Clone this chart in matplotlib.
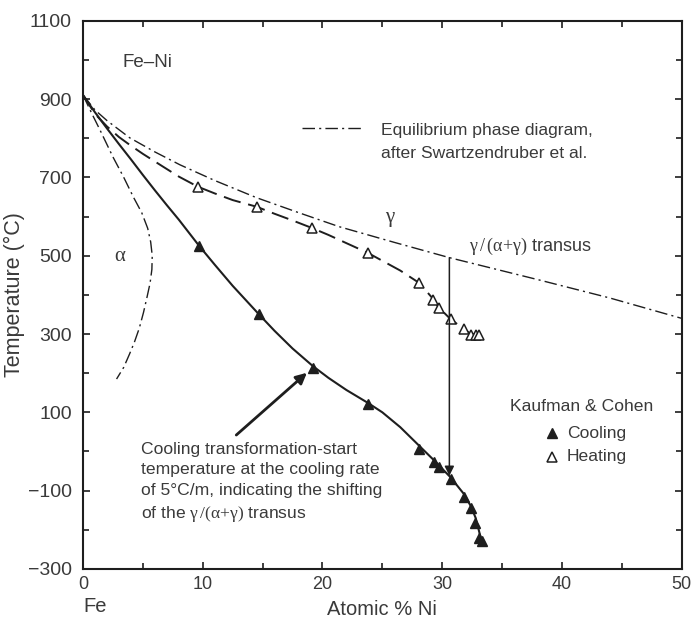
import numpy as np
import matplotlib.pyplot as plt
from matplotlib.ticker import MultipleLocator

plt.rcParams['font.family'] = ['Liberation Sans', 'DejaVu Sans']
plt.rcParams['mathtext.fontset'] = 'custom'
plt.rcParams['mathtext.rm'] = 'Liberation Serif'
plt.rcParams['mathtext.it'] = 'Liberation Serif'

ink = '#1e1e1e'
txt = '#3a3a3a'

# Kaufman & Cohen measured points
cool_ni = [9.7, 14.7, 19.2, 23.8, 28.1, 29.3, 29.7, 30.7, 31.8, 32.4, 32.7, 33.1, 33.3]
cool_t = [525, 350, 213, 121, 6, -26, -39, -71, -115, -145, -183, -222, -228]
heat_ni = [9.6, 14.5, 19.1, 23.8, 28.1, 29.2, 29.7, 30.7, 31.8, 32.4, 32.8, 33.1]
heat_t = [676, 625, 571, 507, 430, 387, 366, 338, 312, 298, 298, 298]

# curves
cool_line_ni = [0, 1, 2, 3, 4, 5, 6, 7, 8, 9.7, 11, 12.5, 14.7, 16, 17.5, 19.2,
                20.5, 22, 23.8, 25, 26.5, 28.1, 29.3, 30.7, 31.8, 32.4, 32.8, 33.3]
cool_line_t = [910, 866, 825, 785, 746, 706, 667, 629, 592, 525, 477, 423, 350, 308, 263, 218,
               188, 157, 124, 100, 62, 14, -22, -66, -108, -140, -170, -230]

heat_line_ni = [0, 1, 2, 3, 3.9, 5, 6.7, 8, 9.6, 11, 12.5, 14.5, 16, 17.5, 19.1, 20.5,
                22, 23.8, 25, 26.5, 28.1, 29.2, 29.7, 30.7, 31.8, 32.4, 33.1]
heat_line_t = [910, 862, 830, 803, 783, 760, 727, 702, 676, 659, 642, 625, 607, 590, 571, 553,
               532, 507, 487, 462, 430, 391, 368, 338, 313, 300, 298]

eq_ni = [0, 1, 2, 3.9, 6, 8.1, 11, 14.5, 18, 21.4, 26, 30.6, 38.1, 44, 50]
eq_t = [910, 872, 845, 801, 765, 732, 692, 648, 610, 574, 534, 495, 438, 392, 340]

alpha_ni = [0, 0.7, 1.4, 2.5, 3.4, 4.2, 4.9, 5.4, 5.65, 5.78, 5.75, 5.6, 5.35, 5.05,
            4.7, 4.3, 3.9, 3.4, 2.8]
alpha_t = [910, 865, 822, 752, 700, 650, 610, 570, 535, 500, 465, 430, 395, 355,
           315, 280, 250, 215, 185]

fig = plt.figure(figsize=(6.92, 6.28), dpi=100)
ax = fig.add_axes([0.12, 0.094, 0.865, 0.873])

dd = (9, 3, 1.5, 3)
ax.plot(eq_ni, eq_t, color=ink, lw=1.0, dashes=dd)
ax.plot(alpha_ni, alpha_t, color=ink, lw=1.0, dashes=dd)
ax.plot(heat_line_ni, heat_line_t, color=ink, lw=1.4, dashes=(9, 4))
ax.plot(cool_line_ni, cool_line_t, color=ink, lw=1.5)

ax.plot(cool_ni, cool_t, ls='none', marker='^', ms=7, mfc=ink, mec=ink)
ax.plot(heat_ni, heat_t, ls='none', marker='^', ms=6.5, mfc='white', mec=ink, mew=1.1)

fs = 12.6

# legend for equilibrium line
ax.plot([18.3, 23.3], [827, 827], color=ink, lw=1.0, dashes=dd)
ax.text(24.9, 838, 'Equilibrium phase diagram,\nafter Swartzendruber et al.',
        fontsize=fs, color=txt, va='top', ha='left', linespacing=1.6)

# Kaufman & Cohen legend
ax.text(35.7, 114, 'Kaufman & Cohen', fontsize=fs, color=txt, va='center')
ax.plot([39.2], [47], marker='^', ms=7, mfc=ink, mec=ink, ls='none')
ax.text(40.4, 47, 'Cooling', fontsize=fs, color=txt, va='center')
ax.plot([39.2], [-14], marker='^', ms=6.5, mfc='white', mec=ink, mew=1.1, ls='none')
ax.text(40.4, -14, 'Heating', fontsize=fs, color=txt, va='center')

# labels
ax.text(3.3, 993, 'Fe–Ni', fontsize=13.5, color=txt, va='center')
ax.text(2.6, 500, r'$\mathrm{\alpha}$', fontsize=15, color=txt, va='center')
ax.text(25.2, 592, r'$\mathrm{\gamma}$', fontsize=15, color=txt, va='center')
ax.text(32.2, 523, r'$\mathrm{\gamma\,/\,(\alpha{+}\gamma)}$ transus', fontsize=13,
        color=txt, va='center')

# vertical arrow showing the shift
ax.annotate('', xy=(30.6, -62), xytext=(30.6, 495),
            arrowprops=dict(arrowstyle='-|>', color=ink, lw=1.1,
                            mutation_scale=14, shrinkA=0, shrinkB=0))

# annotation text and arrow
ax.text(4.85, 24, 'Cooling transformation-start\ntemperature at the cooling rate\n'
        'of 5°C/m, indicating the shifting\n'
        r'of the $\mathrm{\gamma\,/(\alpha{+}\gamma)}$ transus',
        fontsize=fs, color=txt, va='top', ha='left', linespacing=1.45)
ax.annotate('', xy=(18.7, 201), xytext=(12.8, 42),
            arrowprops=dict(arrowstyle='-|>', color=ink, lw=2.0,
                            mutation_scale=16, shrinkA=0, shrinkB=0))

ax.set_xlim(0, 50)
ax.set_ylim(-300, 1100)
ax.xaxis.set_major_locator(MultipleLocator(10))
ax.xaxis.set_minor_locator(MultipleLocator(5))
ax.set_yticks(np.arange(-300, 1101, 200))
ax.yaxis.set_minor_locator(MultipleLocator(100))
ax.tick_params(which='both', direction='in', top=True, right=True, color=ink,
               width=1.2, labelcolor=txt)
ax.tick_params(which='major', length=5)
ax.tick_params(which='minor', length=4)
ax.tick_params(axis='x', labelsize=13, pad=5)
ax.tick_params(axis='y', labelsize=14, pad=8)
for s in ax.spines.values():
    s.set_linewidth(1.5)
    s.set_color(ink)

ax.set_ylabel('Temperature (°C)', fontsize=15.5, color=txt, labelpad=2)
ax.set_xlabel('Atomic % Ni', fontsize=14.5, color=txt, labelpad=5)
ax.text(0.0, -0.068, 'Fe', transform=ax.transAxes, fontsize=14.5, color=txt,
        va='center', ha='left')

fig.savefig('out.png', dpi=100)
